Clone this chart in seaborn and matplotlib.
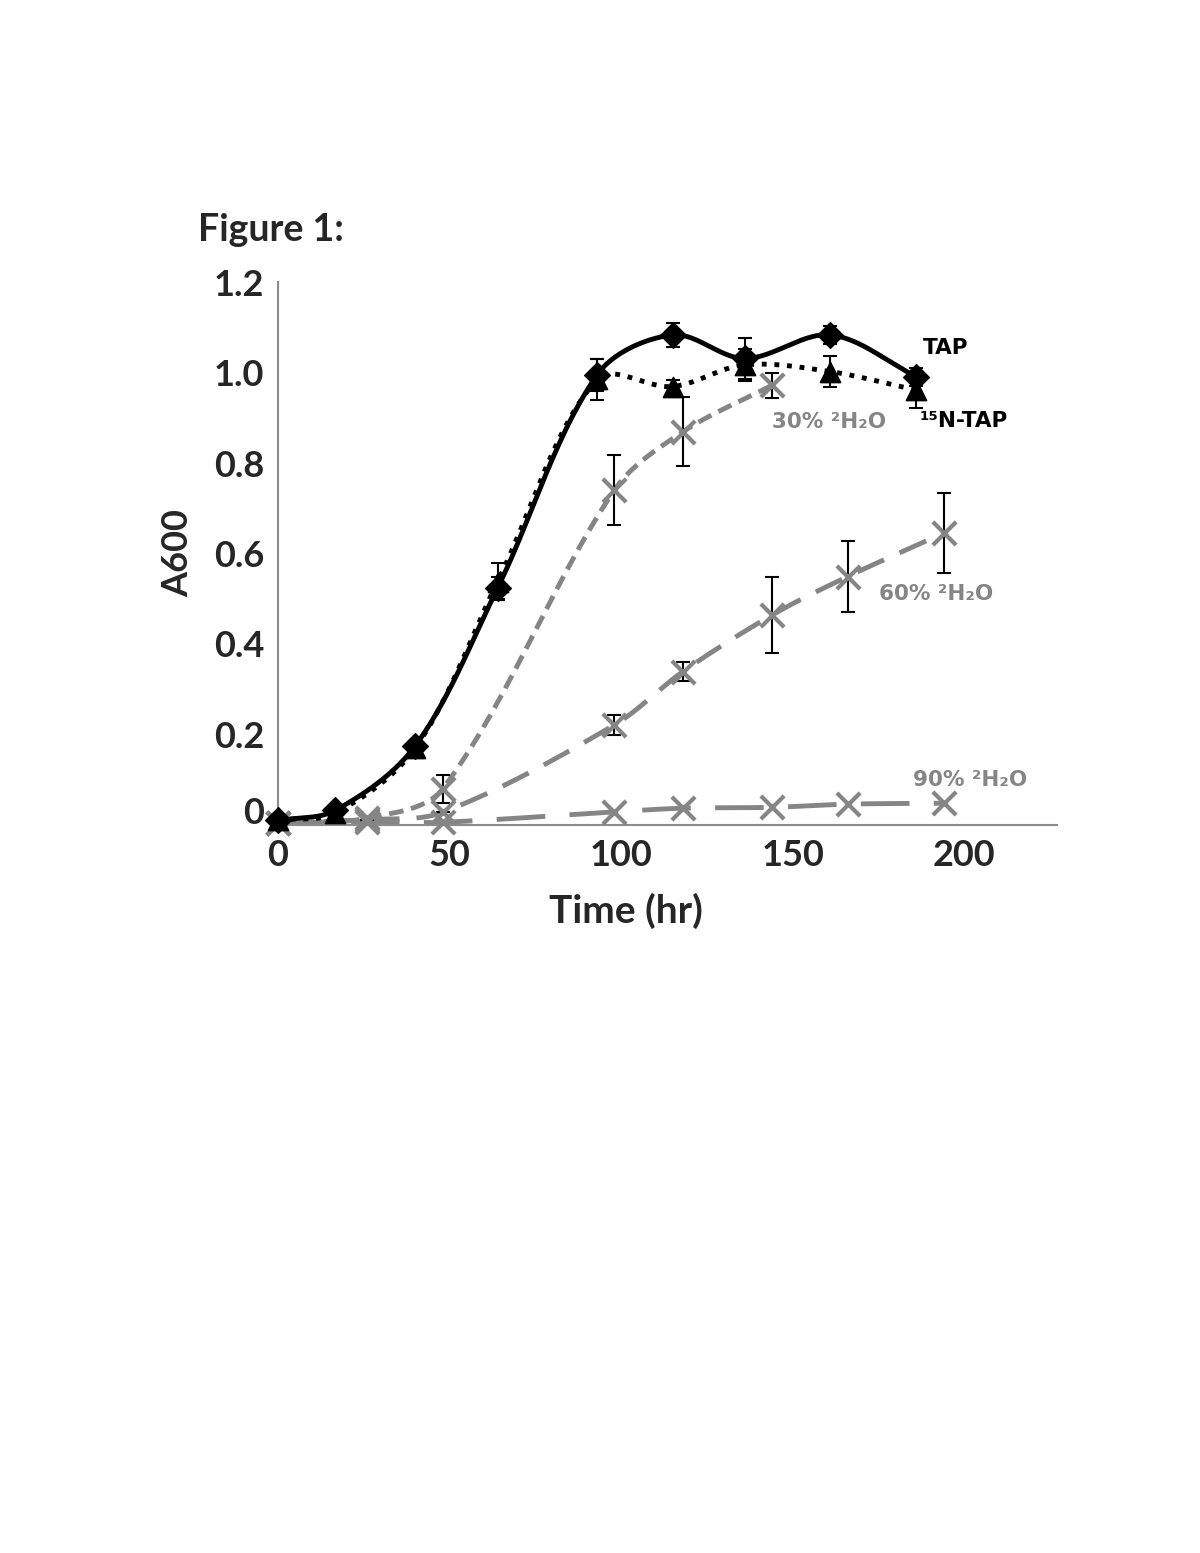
import numpy as np
import pandas as pd
import seaborn as sns
import matplotlib.pyplot as plt
from matplotlib.transforms import ScaledTranslation

# data
time_tap = [0, 16.6, 40, 64, 93, 115, 136, 161, 186]
a600_tap = [0.01, 0.032, 0.175, 0.524, 0.995, 1.083, 1.031, 1.083, 0.991]
err_tap = [0.005, 0.005, 0.01, 0.025, 0.035, 0.027, 0.045, 0.02, 0.02]
a600_15n = [0.011, 0.026, 0.17, 0.538, 0.985, 0.969, 1.017, 1.002, 0.961]
err_15n = [0.005, 0.005, 0.01, 0.04, 0.045, 0.015, 0.035, 0.035, 0.04]

time_h2o = [0, 26, 48, 98, 118, 144, 166, 194]
a600_30 = [0.005, 0.015, 0.08, 0.74, 0.869, 0.972]
err_30 = [0, 0.003, 0.031, 0.077, 0.076, 0.028]
a600_60 = [0.005, 0.012, 0.028, 0.221, 0.339, 0.464, 0.549, 0.645]
err_60 = [0, 0, 0, 0.023, 0.021, 0.084, 0.078, 0.088]
a600_90 = [0.005, 0.007, 0.006, 0.029, 0.037, 0.039, 0.046, 0.048]

grey = '#858585'


def smooth(x, y, n=30, sx=3.43, sy=452.5):
    # bezier smoothing through the points (Excel-like), done in screen units
    p = np.column_stack([np.asarray(x, float) * sx, np.asarray(y, float) * sy])
    k = len(p)
    d = np.linalg.norm(np.diff(p, axis=0), axis=1)
    tang = np.zeros_like(p)
    for i in range(k):
        a = p[max(i - 1, 0)]
        b = p[min(i + 1, k - 1)]
        span = (d[i - 1] if i > 0 else 0) + (d[i] if i < k - 1 else 0)
        tang[i] = (b - a) / span if span > 0 else 0
    t = np.linspace(0, 1, n)[:, None]
    pts = []
    for i in range(k - 1):
        c1 = p[i] + tang[i] * d[i] / 3
        c2 = p[i + 1] - tang[i + 1] * d[i] / 3
        seg = ((1 - t) ** 3 * p[i] + 3 * (1 - t) ** 2 * t * c1
               + 3 * (1 - t) * t ** 2 * c2 + t ** 3 * p[i + 1])
        pts.append(seg)
    pts = np.vstack(pts)
    return pd.DataFrame({'time': pts[:, 0] / sx, 'a600': pts[:, 1] / sy})


sns.set_style('white')
plt.rcParams['font.family'] = ['Lato', 'DejaVu Sans']

fig = plt.figure(figsize=(12, 15.53), dpi=100)
ax = fig.add_axes([0.2317, 0.4688, 0.6491, 0.3496])

series = [
    (time_h2o[:6], a600_30, err_30, grey, (0, (3, 1.6)), 'x'),
    (time_h2o, a600_60, err_60, grey, (0, (6, 3.5)), 'x'),
    (time_h2o, a600_90, None, grey, (0, (10, 5)), 'x'),
    (time_tap, a600_15n, err_15n, 'black', (0, (1, 1.6)), '^'),
    (time_tap, a600_tap, err_tap, 'black', '-', 'D'),
]

for t, a, e, col, ls, mk in series:
    curve = smooth(t, a)
    sns.lineplot(data=curve, x='time', y='a600', ax=ax, color=col,
                 linestyle=ls, linewidth=3.5, sort=False, estimator=None,
                 clip_on=False)
    if e is not None:
        ax.errorbar(t, a, yerr=e, fmt='none', ecolor='black', elinewidth=1.5,
                    capsize=5, capthick=1.5, clip_on=False, zorder=4)
    pts = pd.DataFrame({'time': t, 'a600': a})
    if mk == 'x':
        sns.scatterplot(data=pts, x='time', y='a600', ax=ax, marker='x',
                        color=col, s=280, linewidth=3, clip_on=False, zorder=5)
    else:
        sns.scatterplot(data=pts, x='time', y='a600', ax=ax, marker=mk,
                        color=col, s=210 if mk == '^' else 170,
                        edgecolor=col, clip_on=False, zorder=5)

ax.set_xlim(0, 227)
ax.set_ylim(0, 1.2)
ax.set_xticks([0, 50, 100, 150, 200])
ax.set_yticks([0, 0.2, 0.4, 0.6, 0.8, 1.0, 1.2])
ax.set_yticklabels(['0', '0.2', '0.4', '0.6', '0.8', '1.0', '1.2'])
for s in ['top', 'right']:
    ax.spines[s].set_visible(False)
for s in ['left', 'bottom']:
    ax.spines[s].set_color('#8c8c8c')
    ax.spines[s].set_linewidth(1.5)
ax.tick_params(axis='both', which='major', direction='out', length=6,
               width=1.2, color='#8c8c8c', labelsize=26, pad=4)
for lab in ax.get_xticklabels() + ax.get_yticklabels():
    lab.set_fontweight('bold')
# the "0" label sits a little above the axis in the original
zero = ax.get_yticklabels()[0]
zero.set_transform(zero.get_transform() + ScaledTranslation(0, 0.14, fig.dpi_scale_trans))

ax.set_xlabel('Time (hr)', fontsize=28, fontweight='bold', labelpad=14)
ax.xaxis.set_label_coords(0.447, -0.125)
ax.set_ylabel('A600', fontsize=26, fontweight='bold', labelpad=14)

lab_font = dict(family=['DejaVu Sans'], fontweight='bold', fontsize=15.5)
ax.text(188, 1.04, 'TAP', color='black', **lab_font)
ax.text(187, 0.88, '\u00b9\u2075N-TAP', color='black', **lab_font)
ax.text(144, 0.877, '30% \u00b2H\u2082O', color=grey, **lab_font)
ax.text(175, 0.497, '60% \u00b2H\u2082O', color=grey, **lab_font)
ax.text(185, 0.087, '90% \u00b2H\u2082O', color=grey, **lab_font)

fig.text(0.165, 0.845, 'Figure 1:', fontsize=27, fontweight='bold')

fig.savefig('out.png', dpi=100, facecolor='white')
